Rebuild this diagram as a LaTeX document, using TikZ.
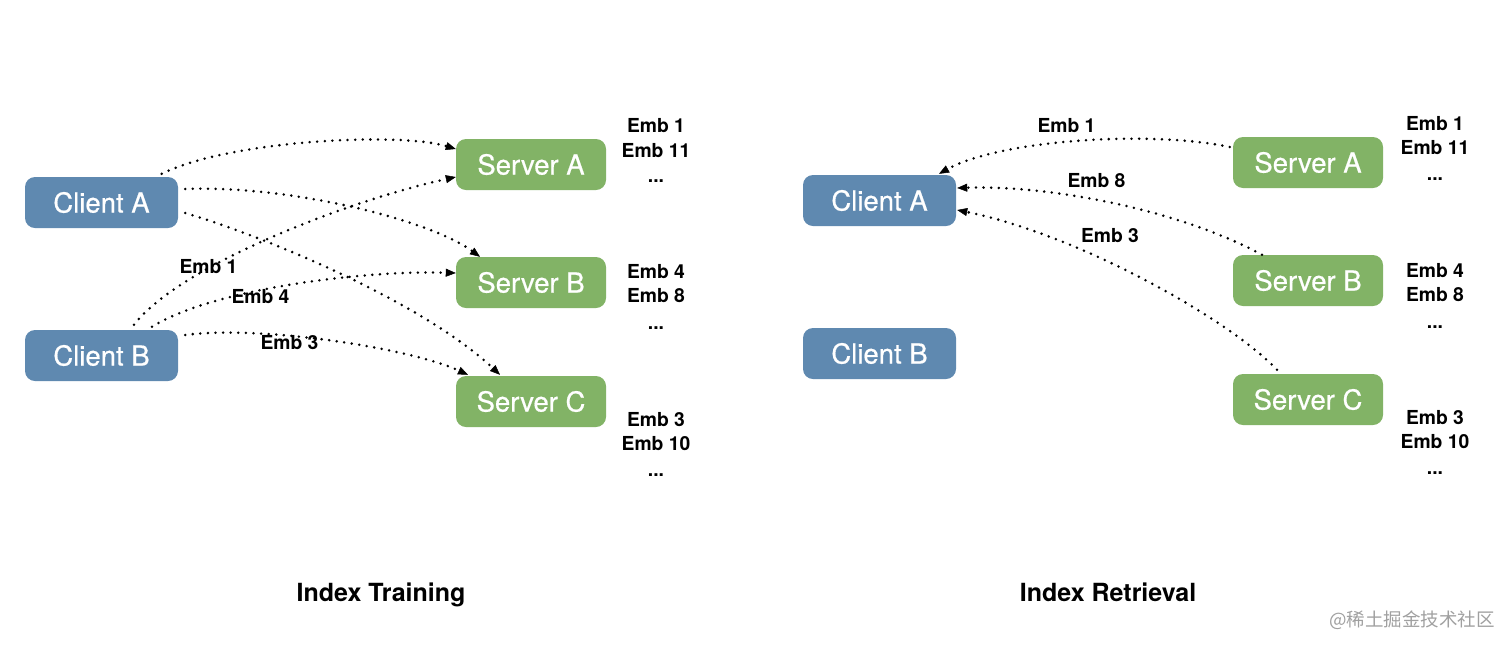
\documentclass[tikz,border=0pt]{standalone}
\usepackage{fontspec}
\setmainfont{TeX Gyre Heros}
\newfontfamily\nodefont{TeX Gyre Heros}[FakeBold=0.6]
\newfontfamily\cjkfont{Noto Sans CJK SC}
\usetikzlibrary{arrows.meta}
\definecolor{clientblue}{RGB}{95,137,176}
\definecolor{servergreen}{RGB}{130,179,102}
\definecolor{wmgray}{RGB}{160,160,160}
\begin{document}
\begin{tikzpicture}[x=1pt,y=-1pt,
  box/.style={rounded corners=10pt, minimum height=51pt, inner sep=0pt, text=white, font=\nodefont\fontsize{27.5}{32}\selectfont},
  client/.style={box, fill=clientblue, minimum width=153pt},
  server/.style={box, fill=servergreen, minimum width=150pt},
  emb/.style={font=\bfseries\fontsize{19.3}{22}\selectfont, inner sep=0pt},
  title/.style={font=\bfseries\fontsize{25}{28}\selectfont, inner sep=0pt, anchor=base},
  flow/.style={line width=2.8pt, dash pattern=on 0pt off 7.6pt, line cap=round,
    -{Triangle[length=10pt,width=8pt,line width=0.5pt]}}]
\useasboundingbox (0,0) rectangle (1512,649);

% ---------- Index Training ----------
\node[client] (cA) at (101.5,202.5) {Client A};
\node[client] (cB) at (101.5,355.5) {Client B};
\node[server] (sA) at (531,164.5) {Server A};
\node[server] (sB) at (531,282.5) {Server B};
\node[server] (sC) at (531,401.5) {Server C};

\node[emb] (la1) at (656,126) {Emb 1};
\node[emb] (la2) at (656,151) {Emb 11};
\node[emb] (la3) at (656,181) {...};
\node[emb] (lb1) at (656,272) {Emb 4};
\node[emb] (lb2) at (656,296) {Emb 8};
\node[emb] (lb3) at (656,328) {...};
\node[emb] (lc1) at (656,420) {Emb 3};
\node[emb] (lc2) at (656,444) {Emb 10};
\node[emb] (lc3) at (656,475) {...};

\draw[flow] ([shift={(-16.5,-3)}]cA.north east) .. controls (230,140) and (400,132) .. ([shift={(0,-15.5)}]sA.west);
\draw[flow] ([shift={(7,-13.5)}]cA.east) .. controls (290,185) and (430,220) .. ([shift={(-51,0)}]sB.north);
\draw[flow] ([shift={(7,10.5)}]cA.east) .. controls (260,235) and (420,300) .. ([shift={(-31,-1)}]sC.north);
\draw[flow] ([shift={(32.5,-5)}]cB.north) .. controls (180,265) and (350,200) .. ([shift={(0,12.5)}]sA.west);
\draw[flow] ([shift={(50.5,-3)}]cB.north) .. controls (210,290) and (360,270) .. ([shift={(0,-9.5)}]sB.west);
\draw[flow] ([shift={(7,-20.5)}]cB.east) .. controls (260,325) and (410,348) .. ([shift={(-63,-1)}]sC.north);

\node[emb] (e1) at (208.5,267) {Emb 1};
\node[emb] (e4) at (260.5,297) {Emb 4};
\node[emb] (e3) at (289.5,342.5) {Emb 3};

\node[title] (t1) at (381,601) {Index Training};

% ---------- Index Retrieval ----------
\node[client] (rcA) at (879.5,200.5) {Client A};
\node[client] (rcB) at (879.5,353.5) {Client B};
\node[server] (rsA) at (1308,162.5) {Server A};
\node[server] (rsB) at (1308,280.5) {Server B};
\node[server] (rsC) at (1308,399.5) {Server C};

\node[emb] (ra1) at (1435,124) {Emb 1};
\node[emb] (ra2) at (1435,148) {Emb 11};
\node[emb] (ra3) at (1435,179) {...};
\node[emb] (rb1) at (1435,271) {Emb 4};
\node[emb] (rb2) at (1435,295) {Emb 8};
\node[emb] (rb3) at (1435,327) {...};
\node[emb] (rc1) at (1435,418) {Emb 3};
\node[emb] (rc2) at (1435,442) {Emb 10};
\node[emb] (rc3) at (1435,473) {...};

\draw[flow] ([shift={(-3,-15.5)}]rsA.west) .. controls (1150,130) and (1000,140) .. ([shift={(59.5,-1)}]rcA.north);
\draw[flow] ([shift={(-46,0)}]rsB.north) .. controls (1180,210) and (1050,185) .. ([shift={(1,-12.5)}]rcA.east);
\draw[flow] ([shift={(-31,-4)}]rsC.north) .. controls (1230,320) and (1080,235) .. ([shift={(1,9.5)}]rcA.east);

\node[emb] (re1) at (1066.5,126) {Emb 1};
\node[emb] (re8) at (1096.5,181) {Emb 8};
\node[emb] (re3) at (1110,236) {Emb 3};

\node[title] (t2) at (1108,601) {Index Retrieval};

\node[text=wmgray, inner sep=0pt, font=\cjkfont\fontsize{18.5}{22}\selectfont] (wm) at (1412,620) {@稀土掘金技术社区};
\end{tikzpicture}
\end{document}
